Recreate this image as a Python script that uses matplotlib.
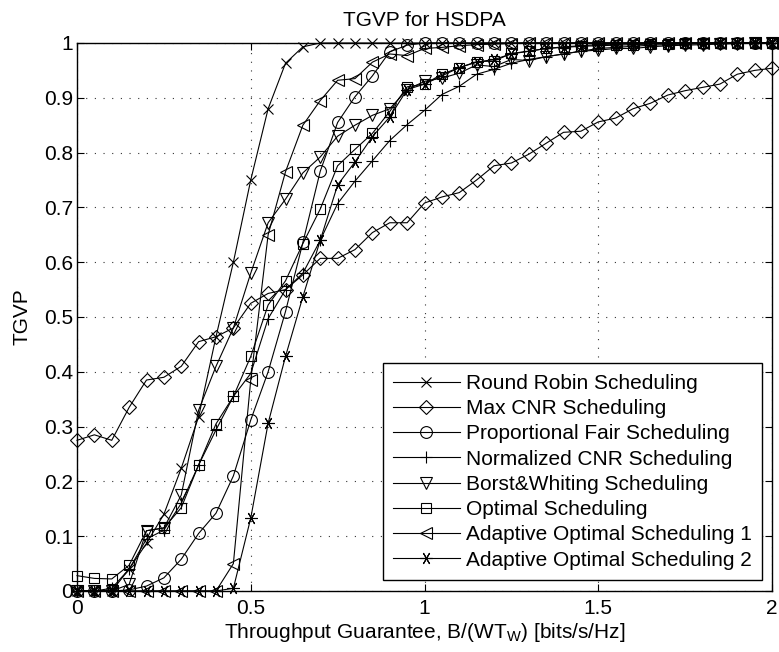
import numpy as np
import matplotlib
matplotlib.use("Agg")
import matplotlib.pyplot as plt

plt.rcParams['font.family'] = ['Liberation Sans', 'DejaVu Sans']
plt.rcParams['mathtext.fontset'] = 'custom'
plt.rcParams['mathtext.rm'] = 'Liberation Sans'

# throughput guarantee grid, step 0.05 from 0 to 2
x = np.round(np.arange(0, 2.001, 0.05), 2)

round_robin = [0, 0, 0, 0.04, 0.087, 0.14, 0.224, 0.318, 0.464, 0.60,
               0.75, 0.88, 0.963, 0.993, 1, 1, 1, 1, 1, 1,
               1, 1, 1, 1, 1, 1, 1, 1, 1, 1,
               1, 1, 1, 1, 1, 1, 1, 1, 1, 1, 1]
max_cnr = [0.275, 0.285, 0.275, 0.335, 0.385, 0.39, 0.41, 0.455, 0.464, 0.48,
           0.525, 0.543, 0.55, 0.577, 0.607, 0.607, 0.623, 0.654, 0.672, 0.672,
           0.708, 0.719, 0.727, 0.75, 0.776, 0.781, 0.797, 0.817, 0.837, 0.839,
           0.856, 0.863, 0.88, 0.89, 0.905, 0.913, 0.919, 0.925, 0.943, 0.95, 0.954]
prop_fair = [0, 0, 0, 0.002, 0.009, 0.024, 0.058, 0.105, 0.142, 0.21,
             0.312, 0.40, 0.51, 0.636, 0.766, 0.855, 0.902, 0.94, 0.984, 0.996,
             1, 1, 1, 1, 1, 1, 1, 1, 1, 1,
             1, 1, 1, 1, 1, 1, 1, 1, 1, 1, 1]
norm_cnr = [0, 0, 0.005, 0.04, 0.095, 0.111, 0.16, 0.23, 0.294, 0.355,
            0.397, 0.497, 0.55, 0.58, 0.64, 0.707, 0.748, 0.785, 0.822, 0.851,
            0.877, 0.906, 0.921, 0.943, 0.952, 0.963, 0.97, 0.975, 0.98, 0.985,
            0.99, 0.992, 0.994, 0.996, 0.997, 0.998, 0.999, 1, 1, 1, 1]
borst = [0, 0, 0, 0.012, 0.11, 0.115, 0.175, 0.33, 0.41, 0.48,
         0.58, 0.672, 0.715, 0.763, 0.792, 0.83, 0.85, 0.868, 0.88, 0.915,
         0.93, 0.936, 0.945, 0.96, 0.957, 0.97, 0.968, 0.975, 0.98, 0.985,
         0.987, 0.99, 0.99, 0.993, 0.995, 0.996, 0.997, 0.998, 0.999, 1, 1]
optimal = [0.028, 0.023, 0.022, 0.047, 0.11, 0.115, 0.152, 0.23, 0.305, 0.355,
           0.428, 0.522, 0.566, 0.634, 0.697, 0.776, 0.806, 0.835, 0.875, 0.92,
           0.925, 0.943, 0.955, 0.966, 0.967, 0.981, 0.985, 0.99, 0.992, 0.994,
           0.995, 0.996, 0.997, 0.998, 0.999, 1, 1, 1, 1, 1, 1]
adaptive1 = [0, 0, 0, 0, 0, 0, 0, 0, 0, 0.05,
             0.385, 0.65, 0.765, 0.85, 0.895, 0.932, 0.935, 0.965, 0.98, 0.977,
             0.99, 0.992, 0.995, 0.997, 0.998, 0.999, 1, 1, 1, 1,
             1, 1, 1, 1, 1, 1, 1, 1, 1, 1, 1]
adaptive2 = [0, 0, 0, 0, 0, 0, 0, 0, 0, 0.005,
             0.133, 0.306, 0.428, 0.537, 0.64, 0.741, 0.783, 0.829, 0.865, 0.915,
             0.925, 0.94, 0.955, 0.965, 0.97, 0.98, 0.985, 0.99, 0.993, 0.995,
             0.997, 0.998, 0.999, 1, 1, 1, 1, 1, 1, 1, 1]

series = [
    (round_robin, 'x', 7, 'Round Robin Scheduling'),
    (max_cnr, 'D', 7, 'Max CNR Scheduling'),
    (prop_fair, 'o', 8.5, 'Proportional Fair Scheduling'),
    (norm_cnr, '+', 9, 'Normalized CNR Scheduling'),
    (borst, 'v', 9, 'Borst&Whiting Scheduling'),
    (optimal, 's', 7, 'Optimal Scheduling'),
    (adaptive1, '<', 9, 'Adaptive Optimal Scheduling 1'),
    (adaptive2, (6, 2, 90), 9, 'Adaptive Optimal Scheduling 2'),
]

fig = plt.figure(figsize=(7.79, 6.52), dpi=100)
ax = fig.add_axes([77 / 779, 1 - 591 / 652, 695 / 779, 548 / 652])

for ys, mk, ms, name in series:
    ax.plot(x, ys, color='k', lw=0.8, marker=mk, ms=ms, mfc='none', mec='k',
            mew=0.8, label=name, clip_on=False)

ax.set_xlim(0, 2)
ax.set_ylim(0, 1)
ax.set_xticks([0, 0.5, 1, 1.5, 2])
ax.set_xticklabels(['0', '0.5', '1', '1.5', '2'])
ax.set_yticks(np.round(np.arange(0, 1.01, 0.1), 1))
ax.set_yticklabels(['0', '0.1', '0.2', '0.3', '0.4', '0.5', '0.6', '0.7', '0.8', '0.9', '1'])
ax.tick_params(direction='in', top=True, right=True, length=5, width=0.8,
               labelsize=15)
ax.tick_params(axis='x', pad=6)
ax.tick_params(axis='y', pad=3)
ax.grid(True, color='0.2', lw=0.8, linestyle=(0, (1, 6.8)))
for sp in ax.spines.values():
    sp.set_linewidth(1.0)

ax.set_title('TGVP for HSDPA', fontsize=15, pad=12)
ax.set_xlabel('Throughput Guarantee, B/(WT$_\\mathregular{W}$) [bits/s/Hz]', fontsize=15, labelpad=2)
ax.set_ylabel('TGVP', fontsize=15, labelpad=9)

leg = ax.legend(loc='lower right', bbox_to_anchor=(0.986, 0.02), borderaxespad=0,
                fontsize=15, handlelength=3.2, handletextpad=0.3, labelspacing=0.3,
                borderpad=0.5, fancybox=False, framealpha=1, edgecolor='k')
leg.get_frame().set_linewidth(1.0)

fig.savefig('out.png', dpi=100)
